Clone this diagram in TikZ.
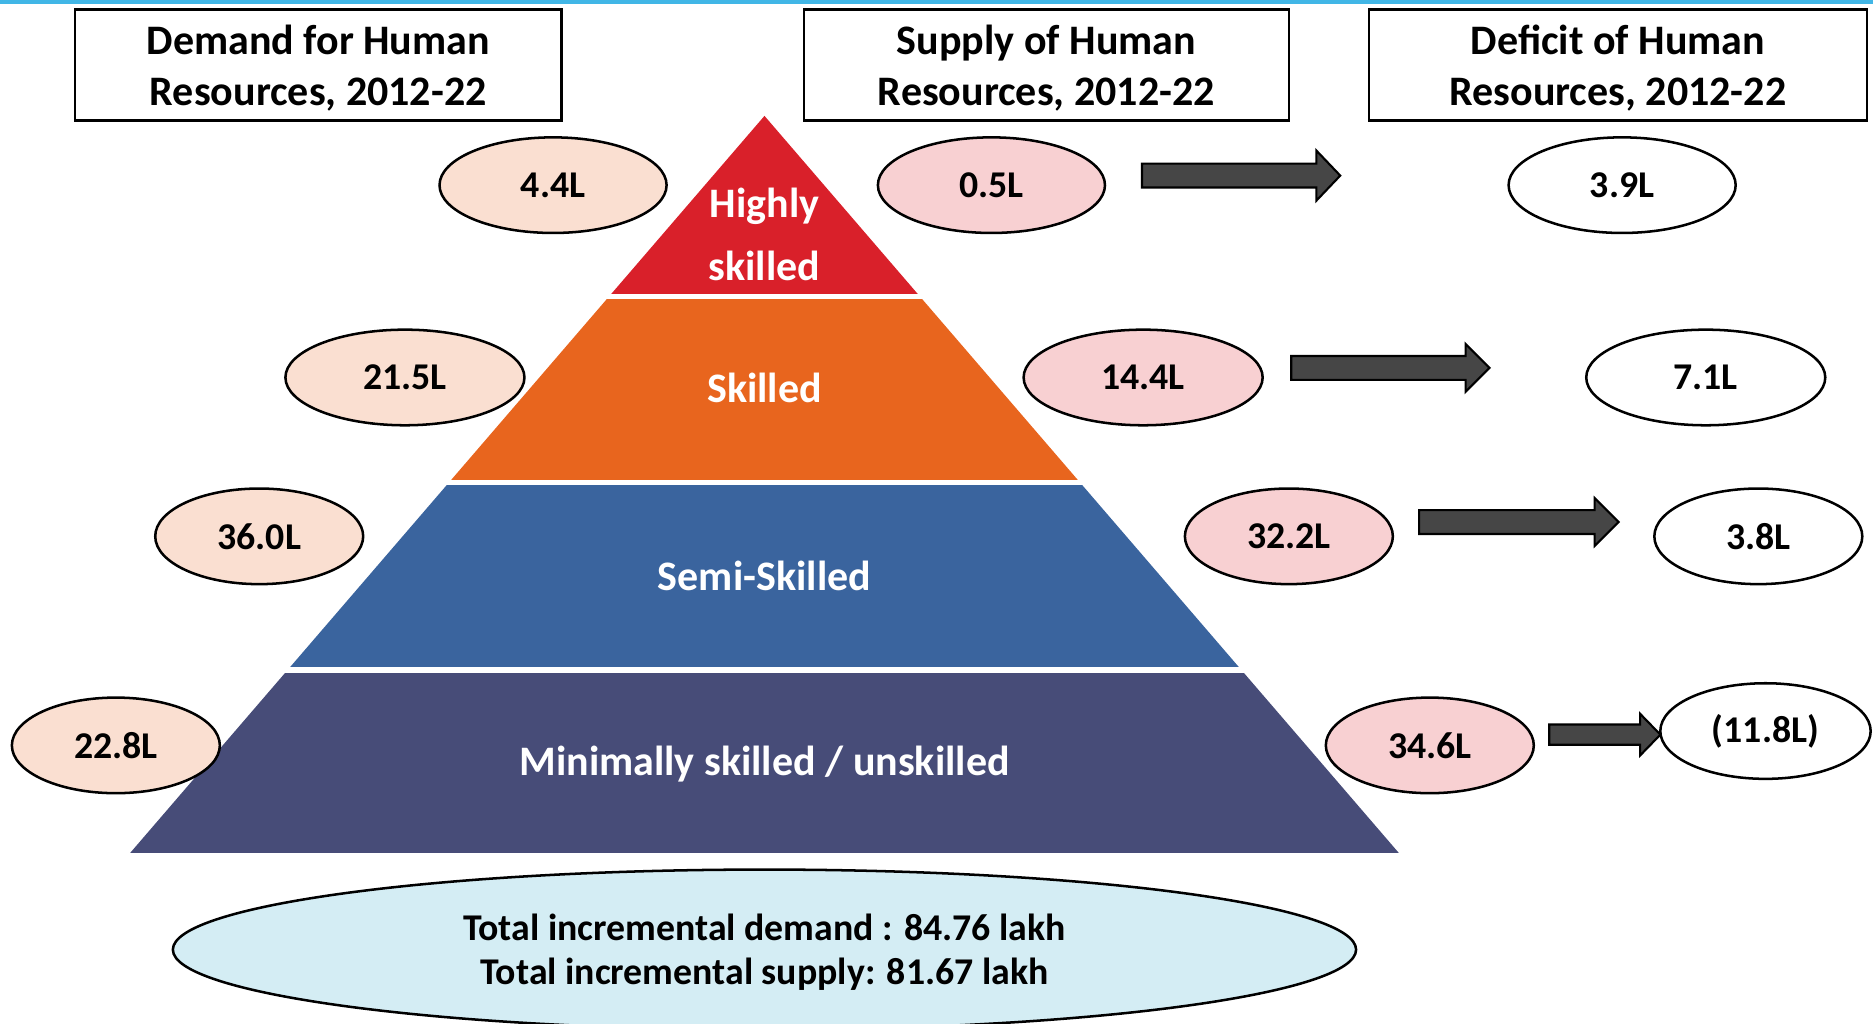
\documentclass[tikz,border=0pt]{standalone}
\usepackage{fontspec}
\setmainfont{Carlito}
\usetikzlibrary{shapes.geometric}
\definecolor{topblue}{RGB}{65,182,230}
\definecolor{hsred}{RGB}{217,32,42}
\definecolor{skorange}{RGB}{232,101,30}
\definecolor{ssblue}{RGB}{58,100,158}
\definecolor{usnavy}{RGB}{71,76,120}
\definecolor{peach}{RGB}{250,223,209}
\definecolor{rosy}{RGB}{248,208,210}
\definecolor{totblue}{RGB}{212,237,244}
\definecolor{arrowgray}{RGB}{70,70,70}
\newcommand{\bigarrow}[6]{\draw[blockarr] (#1,#4-#5) -- (#2,#4-#5) -- (#2,#4-#6) -- (#3,#4) -- (#2,#4+#6) -- (#2,#4+#5) -- (#1,#4+#5) -- cycle;}
\begin{document}
\begin{tikzpicture}[x=0.01cm,y=-0.01cm,
		title/.style={draw, line width=0.6pt, align=center, minimum height=0.93cm, inner sep=0pt, text depth=0pt, font=\bfseries\fontsize{10}{12}\selectfont},
		val/.style={ellipse, draw, line width=0.6pt, inner sep=0pt, minimum height=0.8cm, font=\bfseries\fontsize{9}{11}\selectfont},
		dem/.style={val, fill=peach},
		sup/.style={val, fill=rosy},
		gap/.style={val, fill=white},
		layer/.style={text=white, align=center, font=\bfseries\fontsize{10}{15}\selectfont},
		blockarr/.style={fill=arrowgray, draw=black, line width=0.5pt}]
				\useasboundingbox (0,0) rectangle (1568,857);
				\fill[topblue] (0,0) rectangle (1568,3.5);
				\node[title, minimum width=4.07cm] (dhr) at (266.5,54.5) {Demand for Human\\Resources, 2012-22};
				\node[title, minimum width=4.06cm] (shr) at (876,54.5) {Supply of Human\\Resources, 2012-22};
				\node[title, minimum width=4.17cm] (fhr) at (1354.5,54.5) {Deficit of Human\\Resources, 2012-22};
				\coordinate (apex) at (640,97);
				\coordinate (baseL) at (109,714);
				\coordinate (baseR) at (1171,714);
				\begin{scope}
					\clip (apex) -- (baseL) -- (baseR) -- cycle;
					\fill[hsred] (0,90) rectangle (1568,246);
					\fill[skorange] (0,250) rectangle (1568,402);
					\fill[ssblue] (0,406) rectangle (1568,558);
					\fill[usnavy] (0,563) rectangle (1568,714);
				\end{scope}
				\node[layer] (hs) at (640,196) {Highly\\skilled};
				\node[layer] (sk) at (640,325) {Skilled};
				\node[layer] (ss) at (640,482) {Semi-Skilled};
				\node[layer] (us) at (640,640) {Minimally skilled / unskilled};
				\node[dem, minimum width=1.9cm] (d1) at (463,155) {4.4L};
				\node[dem, minimum width=2cm] (d2) at (339,316) {21.5L};
				\node[dem, minimum width=1.74cm] (d3) at (217,449) {36.0L};
				\node[dem, minimum width=1.74cm] (d4) at (97,624) {22.8L};
				\node[sup, minimum width=1.9cm] (s1) at (830,155) {0.5L};
				\node[sup, minimum width=2cm] (s2) at (957,316) {14.4L};
				\node[sup, minimum width=1.74cm] (s3) at (1079,449) {32.2L};
				\node[sup, minimum width=1.74cm] (s4) at (1197,624) {34.6L};
				\node[gap, minimum width=1.9cm] (g1) at (1358,155) {3.9L};
				\node[gap, minimum width=2cm] (g2) at (1428,316) {7.1L};
				\node[gap, minimum width=1.74cm] (g3) at (1472,449) {3.8L};
				\node[gap, minimum width=1.76cm] (g4) at (1478,612) {(11.8L)};
				\bigarrow{956}{1102}{1122}{147}{10}{21}
				\bigarrow{1081}{1227}{1247}{308}{10}{20}
				\bigarrow{1188}{1335}{1355}{437}{10}{20}
				\bigarrow{1297}{1373}{1390}{615}{8.5}{17.5}
				\node[ellipse, draw, fill=totblue, line width=0.6pt, inner sep=0pt, minimum width=9.9cm, minimum height=1.34cm, align=center, text depth=0pt, font=\bfseries\fontsize{9}{10.5}\selectfont] (tot) at (640,795) {Total incremental demand : 84.76 lakh\\Total incremental supply: 81.67 lakh};
			\end{tikzpicture}
\end{document}
